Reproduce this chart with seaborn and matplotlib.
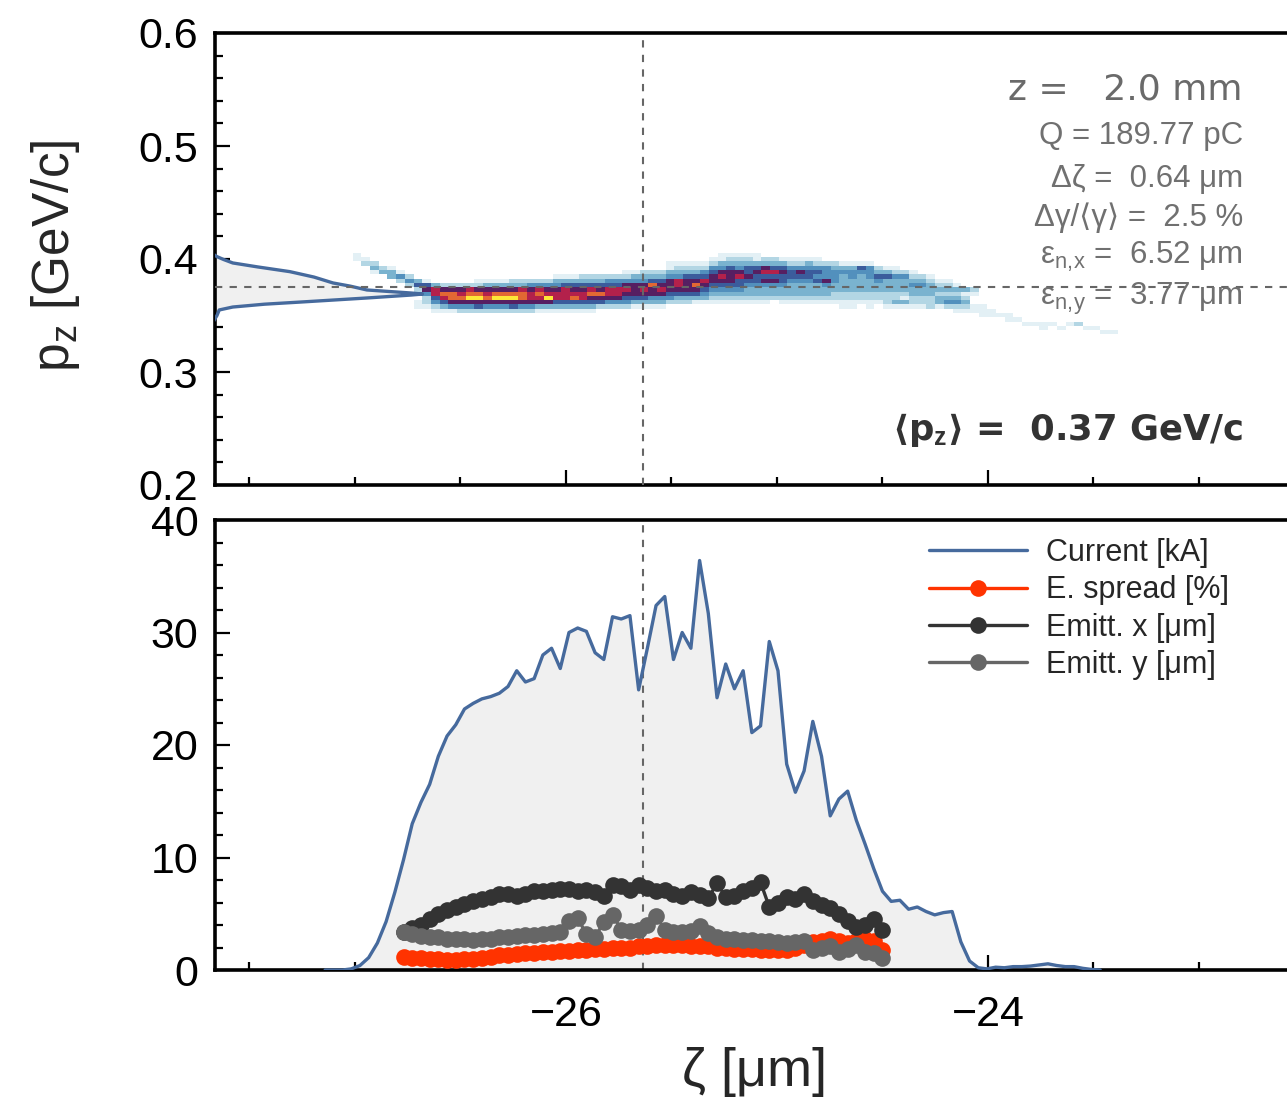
import numpy as np
import pandas as pd
import matplotlib
matplotlib.use("Agg")
import matplotlib.pyplot as plt
import seaborn as sns
from matplotlib.colors import ListedColormap
from matplotlib.ticker import MultipleLocator

# ---------------- data ----------------
# bottom panel: current on uniform longitudinal slices
current_zeta_start = -27.141   # µm, centre of first slice
current_zeta_step = 0.04127    # µm
current_kA = [0.0, 0.0, 0.0, 0.1, 0.4, 1.1, 2.4, 4.3, 6.9,
              9.8, 13.0, 14.9, 16.5, 19.0, 20.8, 21.8, 23.2, 23.7, 24.1,
              24.3, 24.6, 25.2, 26.6, 25.6, 25.9, 28.0, 28.6, 26.8, 30.0,
              30.4, 30.1, 28.2, 27.6, 31.4, 31.2, 31.5, 24.9, 28.6, 32.4,
              33.2, 27.6, 30.0, 28.6, 36.4, 31.7, 24.2, 27.2, 25.0, 26.6,
              21.1, 21.7, 29.2, 26.6, 18.3, 15.8, 17.7, 22.1, 19.0, 13.7,
              15.2, 15.9, 13.3, 11.2, 9.0, 7.0, 6.1, 6.2, 5.4, 5.6,
              5.2, 4.9, 5.1, 5.2, 2.5, 0.8, 0.2, 0.1, 0.25, 0.2,
              0.3, 0.3, 0.35, 0.45, 0.55, 0.4, 0.3, 0.3, 0.15, 0.05, 0.0]

# slice quantities; first slice is index 9 of the current grid
slice_first_index = 9
espread_pct = [1.2, 1.1, 1.1, 1.0, 1.0, 0.9, 0.9, 1.0, 1.0, 1.1,
               1.2, 1.3, 1.3, 1.4, 1.5, 1.5, 1.6, 1.6, 1.7, 1.7,
               1.8, 1.8, 1.9, 1.9, 2.0, 2.0, 2.0, 2.1, 2.1, 2.2,
               2.2, 2.2, 2.2, 2.1, 2.1, 2.1, 2.0, 2.0, 1.9, 1.9,
               1.9, 1.8, 1.8, 1.8, 1.8, 2.0, 2.2, 2.5, 2.6, 2.8,
               2.6, 2.4, 2.6, 2.8, 2.6, 1.8]
emitt_x_um = [3.4, 3.7, 4.0, 4.5, 5.0, 5.3, 5.6, 5.9, 6.1, 6.3,
              6.5, 6.8, 6.8, 6.6, 6.8, 7.0, 7.0, 7.1, 7.2, 7.2,
              7.0, 7.1, 6.9, 6.6, 7.6, 7.5, 7.1, 7.6, 7.3, 7.0,
              7.1, 6.8, 6.6, 6.9, 6.7, 6.4, 7.7, 6.5, 6.6, 7.0,
              7.3, 7.8, 5.6, 6.0, 6.5, 6.3, 6.8, 6.1, 5.8, 5.5,
              5.0, 4.4, 3.8, 4.0, 4.5, 3.6]
emitt_y_um = [3.4, 3.2, 3.0, 2.9, 2.9, 2.8, 2.8, 2.8, 2.7, 2.8,
              2.8, 2.9, 2.9, 3.0, 3.1, 3.1, 3.2, 3.3, 3.4, 4.4,
              4.6, 3.2, 2.9, 4.3, 4.9, 3.6, 3.5, 3.6, 4.0, 4.8,
              3.6, 3.4, 3.4, 3.5, 3.9, 3.3, 2.9, 2.8, 2.8, 2.7,
              2.7, 2.6, 2.6, 2.5, 2.4, 2.5, 2.6, 1.8, 2.0, 2.1,
              1.6, 1.9, 2.2, 1.6, 1.5, 1.1]

# top panel: 2D (zeta, p_z) histogram, intensity levels 1..9 per cell;
# each column: first occupied row (from top) and levels going down
hist_zeta_start = -26.99
hist_zeta_step = 0.0412
hist_pz_top = 0.4035
hist_pz_step = 0.0038
hist_n_rows = 19
hist_col_start_row = [0, 1, 2, 3, 3, 4, 5, 6, 6, 7,
                      7, 7, 7, 7, 6, 6, 6, 6, 6, 6,
                      6, 6, 6, 5, 5, 5, 5, 5, 5, 5,
                      5, 4, 4, 4, 4, 4, 2, 2, 2, 2,
                      2, 1, 0, 0, 0, 0, 0, 1, 1, 1,
                      1, 1, 1, 1, 2, 2, 2, 2, 2, 2,
                      3, 3, 3, 4, 4, 5, 5, 6, 6, 7,
                      8, 8, 12, 13, 14, 14, 15, 16, 16, 16,
                      16, 17, 16, 16, 17, 17, 18, 18]
hist_col_levels = ["11", "12", "231", "23", "133", "142", "242", "3520011", "1564221", "3775421",
                   "2687531", "2688641", "2678642", "2789642", "12689652", "13678642", "13689642", "13689642", "23689652", "23788642",
                   "24677642", "24787631", "24679631", "134677531", "135777531", "135678531", "235677531", "235786531", "23568652", "24577642",
                   "24577642", "124676542", "134666531", "234676531", "235866431", "235676431", "1134666542", "1234776532", "1235666532", "1235686531",
                   "1245765431", "12456654321", "113467654321", "123566654321", "123467554321", "123556543321", "113565543321", "23675643321", "2357564332", "13565543321",
                   "12455433321", "12465433321", "13455433321", "12454533321", "2444643321", "2344433221", "13433332211", "13443332211", "1543333221", "14443332211",
                   "235433221", "1353332221", "1243332231", "243332131", "123433221", "23433221", "12333222", "1232331", "1232342", "1323421",
                   "312321", "210011", "111", "11", "1", "11", "1", "1", "1", "11",
                   "1", "1", "1", "2", "1", "1", "1", "1"]

# projected p_z distribution drawn at the left of the top panel
pz_profile = [0.330, 0.340, 0.345, 0.350, 0.3549, 0.3575, 0.3600, 0.3619, 0.3655, 0.3681,
              0.3690, 0.3699, 0.3726, 0.3760, 0.3788, 0.3840, 0.3888, 0.3930, 0.3965, 0.3995,
              0.4021, 0.4060, 0.4120]
pz_profile_density = [0.02, 0.06, 0.075, 0.09, 0.10, 0.16, 0.30, 0.46, 0.754, 0.95,
                      1.0, 0.95, 0.754, 0.68, 0.604, 0.52, 0.413, 0.27, 0.16, 0.12,
                      0.09, 0.06, 0.03]

# reference lines and texts
zeta_marker = -25.635
pz_mean_line = 0.375
annot_z = "z =   2.0 mm"
annot_lines = ["Q = 189.77 pC",
               "Δζ =  0.64 μm",
               "Δγ/⟨γ⟩ =  2.5 %",
               "ε$_{\\mathrm{n,\\!x}}$ =  6.52 μm",
               "ε$_{\\mathrm{n,\\!y}}$ =  3.77 μm"]
annot_pz = "⟨p$_{\\mathbf{z}}$⟩ =  0.37 GeV/c"
legend_labels = ["Current [kA]", "E. spread [%]", "Emitt. x [μm]", "Emitt. y [μm]"]
ylabel_text = "p$_{\\mathrm{z}}$ [GeV/c]"
xlabel_text = "ζ [μm]"

# ---------------- style ----------------
W, H, DPI = 1287, 1107, 100
sns.set_style("ticks")
plt.rcParams['font.family'] = ['Liberation Sans', 'DejaVu Sans']
plt.rcParams['mathtext.fontset'] = 'custom'
plt.rcParams['mathtext.rm'] = 'Liberation Sans'
plt.rcParams['mathtext.it'] = 'Liberation Sans:italic'
plt.rcParams['mathtext.bf'] = 'Liberation Sans:bold'
plt.rcParams['axes.unicode_minus'] = True

c_blue = '#466a9d'
c_red = '#ff3300'
c_dark = '#333333'
c_gray = '#666666'
c_fill = '#f0f0f0'
cmap = ListedColormap(['#e3f0f5', '#b3d6e4', '#7ab3cf', '#5290bd', '#3b5c9c',
                       '#561f62', '#b3214b', '#e26833', '#fde838'])

fig = plt.figure(figsize=(W / DPI, H / DPI), dpi=DPI)


def fx(px):
    return px / W


def fy(py):
    return 1 - py / H


ax1 = fig.add_axes([fx(215), fy(485), fx(1300) - fx(215), fy(33) - fy(485)])
ax2 = fig.add_axes([fx(215), fy(970), fx(1300) - fx(215), fy(520) - fy(970)], sharex=ax1)
xlim = (-27.663, -22.521)

# ---------------- top panel ----------------
n_cols = len(hist_col_levels)
grid = np.zeros((n_cols, hist_n_rows))
for c, (s, lev) in enumerate(zip(hist_col_start_row, hist_col_levels)):
    for j, ch in enumerate(lev):
        grid[c, s + j] = int(ch)
zc = hist_zeta_start + hist_zeta_step * np.arange(n_cols)
pc = hist_pz_top - hist_pz_step * np.arange(hist_n_rows)
ZZ, PP = np.meshgrid(zc, pc, indexing='ij')
mask = grid > 0
df_h = pd.DataFrame({'zeta': ZZ[mask], 'pz': PP[mask], 'w': grid[mask]})
zedges = hist_zeta_start + hist_zeta_step * (np.arange(n_cols + 1) - 0.5)
pedges = np.sort(hist_pz_top - hist_pz_step * (np.arange(hist_n_rows + 1) - 0.5))

prof_base, prof_scale = -27.75, 1.07
xp = prof_base + prof_scale * np.array(pz_profile_density)
ax1.fill_betweenx(pz_profile, prof_base, xp, color=c_fill, zorder=1, lw=0)

sns.histplot(data=df_h, x='zeta', y='pz', weights='w', bins=[zedges, pedges],
             cmap=cmap, vmin=0.5, vmax=9.5, ax=ax1, zorder=2)
sns.lineplot(x=xp, y=pz_profile, orient='y', color=c_blue, lw=2.4, ax=ax1, zorder=4)

ax1.axhline(pz_mean_line, color=c_gray, lw=1.5, dashes=(3.5, 3.5), zorder=5)
ax1.axvline(zeta_marker, color=c_gray, lw=1.5, dashes=(3.5, 3.5), zorder=5)

# ---------------- bottom panel ----------------
zeta_cur = current_zeta_start + current_zeta_step * np.arange(len(current_kA))
ax2.fill_between(zeta_cur, 0, current_kA, color=c_fill, zorder=1, lw=0)
ax2.axvline(zeta_marker, color=c_gray, lw=1.5, dashes=(3.5, 3.5), zorder=2)
sns.lineplot(x=zeta_cur, y=current_kA, color=c_blue, lw=2.4, ax=ax2, zorder=3,
             label=legend_labels[0])
zs = current_zeta_start + current_zeta_step * (slice_first_index + np.arange(len(espread_pct)))
for vals, col, lab in [(espread_pct, c_red, legend_labels[1]),
                       (emitt_x_um, c_dark, legend_labels[2]),
                       (emitt_y_um, c_gray, legend_labels[3])]:
    sns.lineplot(x=zs, y=vals, color=col, lw=2.4, marker='o', markersize=12,
                 markeredgewidth=0, ax=ax2, zorder=4, label=lab)

ax2.legend(loc='upper left', bbox_to_anchor=(fx(929), fy(538)), bbox_transform=fig.transFigure,
           frameon=False, fontsize=22, handlelength=3.2, handletextpad=0.62,
           labelspacing=0.24, borderpad=0, borderaxespad=0)

# ---------------- axes styling ----------------
for ax in (ax1, ax2):
    ax.set_xlim(*xlim)
    ax.xaxis.set_major_locator(MultipleLocator(2))
    ax.xaxis.set_minor_locator(MultipleLocator(0.5))
    ax.tick_params(which='both', direction='in', top=False, right=False, width=1.6,
                   labelsize=31, colors='black')
    ax.tick_params(which='major', length=11)
    ax.tick_params(which='minor', length=5.5)
    for s in ['left', 'top', 'bottom']:
        ax.spines[s].set_linewidth(2.6)
        ax.spines[s].set_color('black')
    ax.spines['right'].set_visible(False)
    ax.set_xlabel('')
    ax.set_ylabel('')

ax1.set_ylim(0.2, 0.6)
ax1.yaxis.set_major_locator(MultipleLocator(0.1))
ax1.yaxis.set_minor_locator(MultipleLocator(0.02))
ax1.tick_params(axis='x', labelbottom=False)
ax1.tick_params(axis='y', pad=12)

ax2.set_ylim(0, 40)
ax2.yaxis.set_major_locator(MultipleLocator(10))
ax2.yaxis.set_minor_locator(MultipleLocator(2))
ax2.tick_params(axis='x', pad=18)
ax2.tick_params(axis='y', pad=12)

# ---------------- texts ----------------
fig.text(fx(55), fy(256), ylabel_text, rotation=90, ha='center', va='center', fontsize=37)
fig.text(fx(755), fy(1072), xlabel_text, ha='center', va='center', fontsize=39)

fig.text(fx(1243), fy(100), annot_z, ha='right', va='baseline', fontsize=26, color='#6a6a6a',
         family=['DejaVu Sans'])
for txt, base in zip(annot_lines, [144, 187, 226, 264, 305]):
    fig.text(fx(1243), fy(base), txt, ha='right', va='baseline', fontsize=22.5, color='#707070')
fig.text(fx(1243), fy(440), annot_pz, ha='right', va='baseline', fontsize=25.5,
         fontweight='bold', color='#333333', family=['DejaVu Sans'])

fig.savefig('out.png', dpi=DPI)
